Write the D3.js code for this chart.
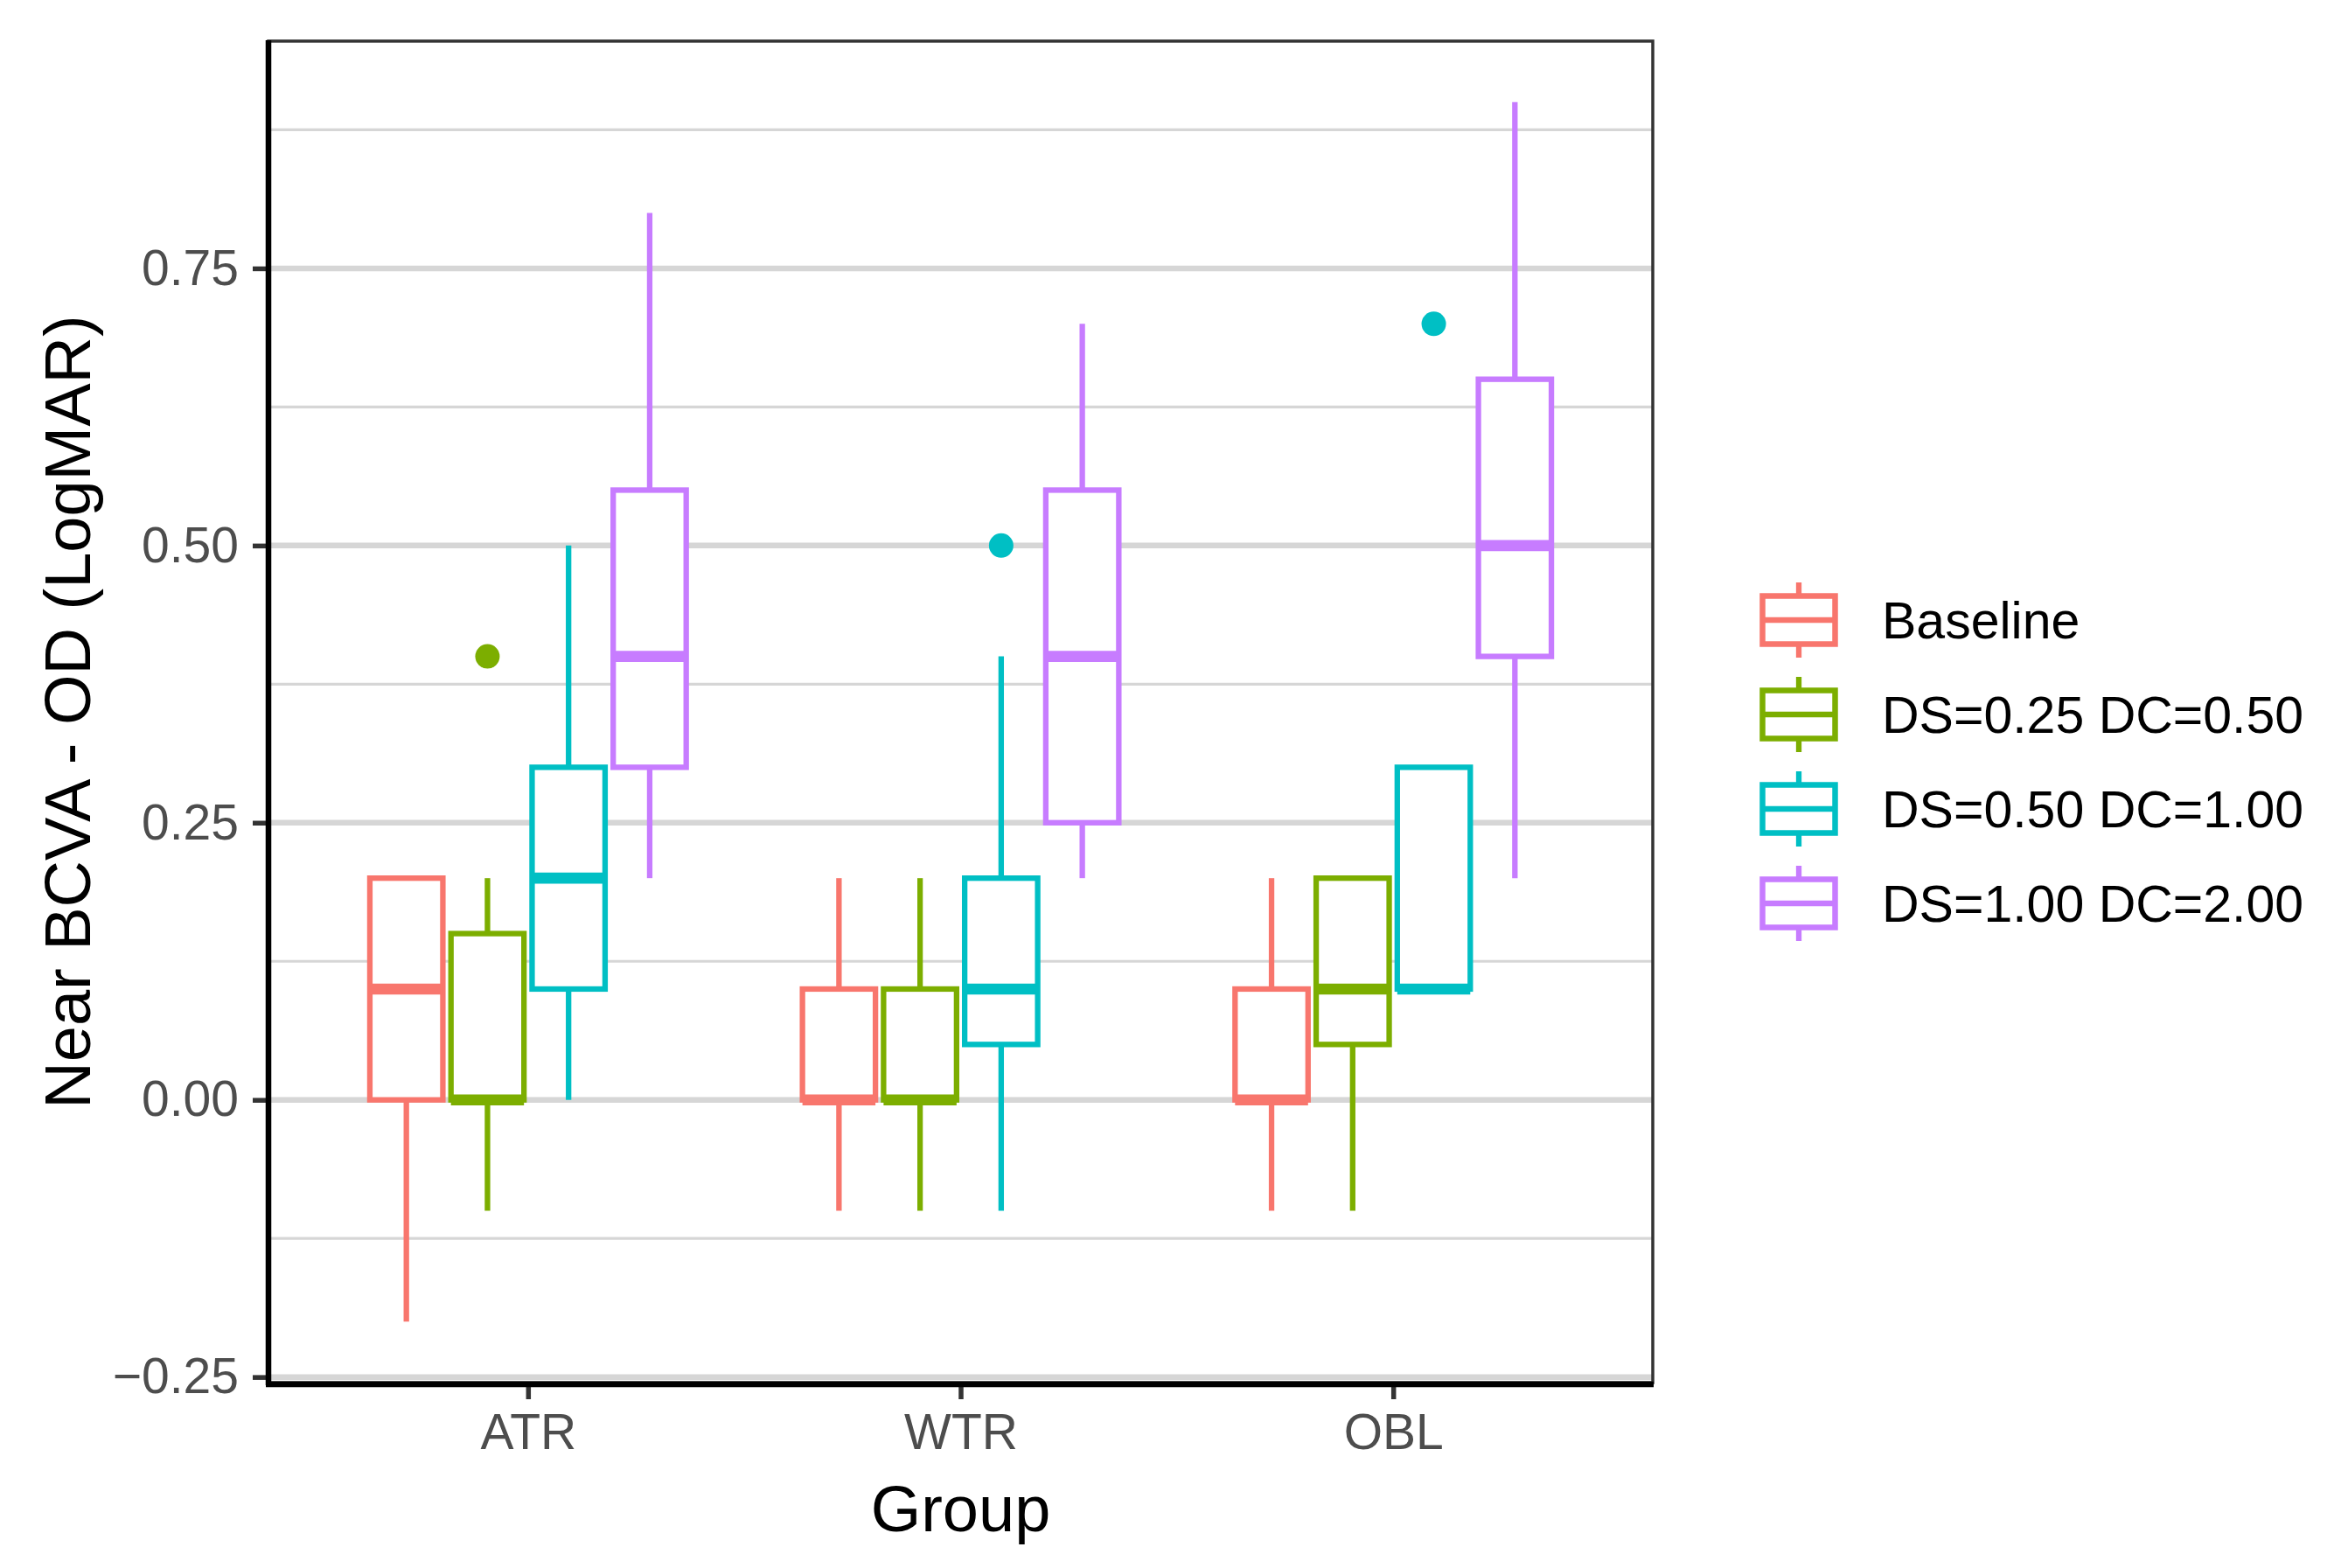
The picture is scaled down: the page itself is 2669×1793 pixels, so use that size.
<!DOCTYPE html>
<html>
<head>
<meta charset="utf-8">
<script src="https://cdn.jsdelivr.net/npm/d3@7"></script>
<style>
  body { margin: 0; background: #fff; }
  text { font-family: "Liberation Sans", Arial, sans-serif; }
</style>
</head>
<body>
<div id="chart"></div>
<script>
// categories and series
const groups = ["ATR", "WTR", "OBL"];
const series = ["Baseline", "DS=0.25 DC=0.50", "DS=0.50 DC=1.00", "DS=1.00 DC=2.00"];
const seriesColors = ["#F8766D", "#7CAE00", "#00BFC4", "#C77CFF"];

// box stats per group: [lower whisker, q1, median, q3, upper whisker]
const baselineStats = [[-0.2, 0, 0.1, 0.2, 0.2], [-0.1, 0, 0, 0.1, 0.2], [-0.1, 0, 0, 0.1, 0.2]];
const ds025Stats = [[-0.1, 0, 0, 0.15, 0.2], [-0.1, 0, 0, 0.1, 0.2], [-0.1, 0.05, 0.1, 0.2, 0.2]];
const ds050Stats = [[0, 0.1, 0.2, 0.3, 0.5], [-0.1, 0.05, 0.1, 0.2, 0.4], [0.1, 0.1, 0.1, 0.3, 0.3]];
const ds100Stats = [[0.2, 0.3, 0.4, 0.55, 0.8], [0.2, 0.25, 0.4, 0.55, 0.7], [0.2, 0.4, 0.5, 0.65, 0.9]];

// outliers: [group, series index, value]
const outliers = [["ATR", 1, 0.4], ["WTR", 2, 0.5], ["OBL", 2, 0.7]];

// axis ticks
const yTicks = [-0.25, 0, 0.25, 0.5, 0.75];
const yMinorTicks = [-0.125, 0.125, 0.375, 0.625, 0.875];

const allStats = [baselineStats, ds025Stats, ds050Stats, ds100Stats];

const width = 2669;
const height = 1793;
const panel = { left: 307, right: 1890, top: 47, bottom: 1581 };

const svg = d3.select("#chart")
  .append("svg")
  .attr("width", width)
  .attr("height", height)
  .attr("viewBox", [0, 0, width, height]);

svg.append("rect").attr("width", width).attr("height", height).attr("fill", "#fff");

const x = d3.scalePoint()
  .domain(groups)
  .range([panel.left, panel.right])
  .padding(0.6);

const step = x.step();
const dodge = d3.scaleBand()
  .domain(d3.range(series.length))
  .range([-0.375 * step, 0.375 * step])
  .paddingInner(0.1)
  .paddingOuter(0.05);

const y = d3.scaleLinear()
  .domain([-0.255, 0.955])
  .range([panel.bottom, panel.top]);

const color = d3.scaleOrdinal().domain(d3.range(series.length)).range(seriesColors);

// grid
const grid = svg.append("g");
grid.selectAll(".minor")
  .data(yMinorTicks)
  .join("line")
    .attr("x1", panel.left).attr("x2", panel.right)
    .attr("y1", d => y(d)).attr("y2", d => y(d))
    .attr("stroke", "#d6d6d6")
    .attr("stroke-width", 3.2);
grid.selectAll(".major")
  .data(yTicks)
  .join("line")
    .attr("x1", panel.left).attr("x2", panel.right)
    .attr("y1", d => y(d)).attr("y2", d => y(d))
    .attr("stroke", "#d6d6d6")
    .attr("stroke-width", 6.5);

// flatten box data
const boxes = [];
allStats.forEach((stats, si) => {
  stats.forEach((s, gi) => {
    boxes.push({ group: groups[gi], si, lo: s[0], q1: s[1], med: s[2], q3: s[3], hi: s[4] });
  });
});

const bw = dodge.bandwidth();
const cx = d => x(d.group) + dodge(d.si) + bw / 2;
const lw = 6.3;

const boxG = svg.append("g")
  .selectAll("g")
  .data(boxes)
  .join("g");

boxG.append("line")
  .attr("x1", cx).attr("x2", cx)
  .attr("y1", d => y(d.q3)).attr("y2", d => y(d.hi))
  .attr("stroke", d => color(d.si)).attr("stroke-width", lw);
boxG.append("line")
  .attr("x1", cx).attr("x2", cx)
  .attr("y1", d => y(d.q1)).attr("y2", d => y(d.lo))
  .attr("stroke", d => color(d.si)).attr("stroke-width", lw);
boxG.append("rect")
  .attr("x", d => cx(d) - bw / 2)
  .attr("width", bw)
  .attr("y", d => y(d.q3))
  .attr("height", d => y(d.q1) - y(d.q3))
  .attr("fill", "#fff")
  .attr("stroke", d => color(d.si))
  .attr("stroke-width", lw);
boxG.append("line")
  .attr("x1", d => cx(d) - bw / 2).attr("x2", d => cx(d) + bw / 2)
  .attr("y1", d => y(d.med)).attr("y2", d => y(d.med))
  .attr("stroke", d => color(d.si)).attr("stroke-width", lw * 2);

svg.append("g")
  .selectAll("circle")
  .data(outliers)
  .join("circle")
    .attr("cx", d => x(d[0]) + dodge(d[1]) + bw / 2)
    .attr("cy", d => y(d[2]))
    .attr("r", 14)
    .attr("fill", d => color(d[1]));

// panel border and axis lines
svg.append("rect")
  .attr("x", panel.left).attr("y", panel.top)
  .attr("width", panel.right - panel.left)
  .attr("height", panel.bottom - panel.top)
  .attr("fill", "none")
  .attr("stroke", "#333")
  .attr("stroke-width", 3.5);

const yAxis = g => {
  g.attr("transform", `translate(${panel.left}, 0)`)
    .call(d3.axisLeft(y).tickValues(yTicks).tickFormat(d3.format(".2f")).tickSize(18).tickPadding(16))
    .call(g => g.select(".domain").remove());
  g.selectAll(".tick line").attr("stroke", "#333").attr("stroke-width", 5.5);
  g.selectAll(".tick text").attr("fill", "#4d4d4d").attr("font-size", 57)
    .attr("font-family", "Liberation Sans, Arial, sans-serif");
};

const xAxis = g => {
  g.attr("transform", `translate(0, ${panel.bottom + 2})`)
    .call(d3.axisBottom(x).tickSize(17).tickPadding(17))
    .call(g => g.select(".domain").remove());
  g.selectAll(".tick line").attr("stroke", "#333").attr("stroke-width", 5.5);
  g.selectAll(".tick text").attr("fill", "#4d4d4d").attr("font-size", 57)
    .attr("font-family", "Liberation Sans, Arial, sans-serif");
};

svg.append("g").call(yAxis);
svg.append("g").call(xAxis);

svg.append("line")
  .attr("x1", panel.left).attr("x2", panel.left)
  .attr("y1", panel.top - 1).attr("y2", panel.bottom + 3)
  .attr("stroke", "#000").attr("stroke-width", 6.5);
svg.append("line")
  .attr("x1", panel.left - 3).attr("x2", panel.right + 1)
  .attr("y1", panel.bottom + 2).attr("y2", panel.bottom + 2)
  .attr("stroke", "#000").attr("stroke-width", 6.5);

// axis titles
svg.append("text")
  .attr("transform", `translate(103, ${(panel.top + panel.bottom) / 2}) rotate(-90)`)
  .attr("text-anchor", "middle")
  .attr("font-size", 74)
  .attr("fill", "#000")
  .text("Near BCVA - OD (LogMAR)");

svg.append("text")
  .attr("x", (panel.left + panel.right) / 2)
  .attr("y", 1751)
  .attr("text-anchor", "middle")
  .attr("font-size", 74)
  .attr("fill", "#000")
  .text("Group");

// legend
const legend = svg.append("g")
  .selectAll("g")
  .data(series)
  .join("g")
    .attr("transform", (d, i) => `translate(2057, ${709 + i * 108})`);

legend.append("line")
  .attr("y1", -43).attr("y2", 43)
  .attr("stroke", (d, i) => color(i)).attr("stroke-width", lw);
legend.append("rect")
  .attr("x", -41.5).attr("y", -27.5)
  .attr("width", 83).attr("height", 55)
  .attr("fill", "#fff")
  .attr("stroke", (d, i) => color(i)).attr("stroke-width", 6.5);
legend.append("line")
  .attr("x1", -41.5).attr("x2", 41.5)
  .attr("stroke", (d, i) => color(i)).attr("stroke-width", lw);
legend.append("text")
  .attr("x", 95)
  .attr("dy", "0.36em")
  .attr("font-size", 59)
  .attr("fill", "#000")
  .text(d => d);
</script>
</body>
</html>
